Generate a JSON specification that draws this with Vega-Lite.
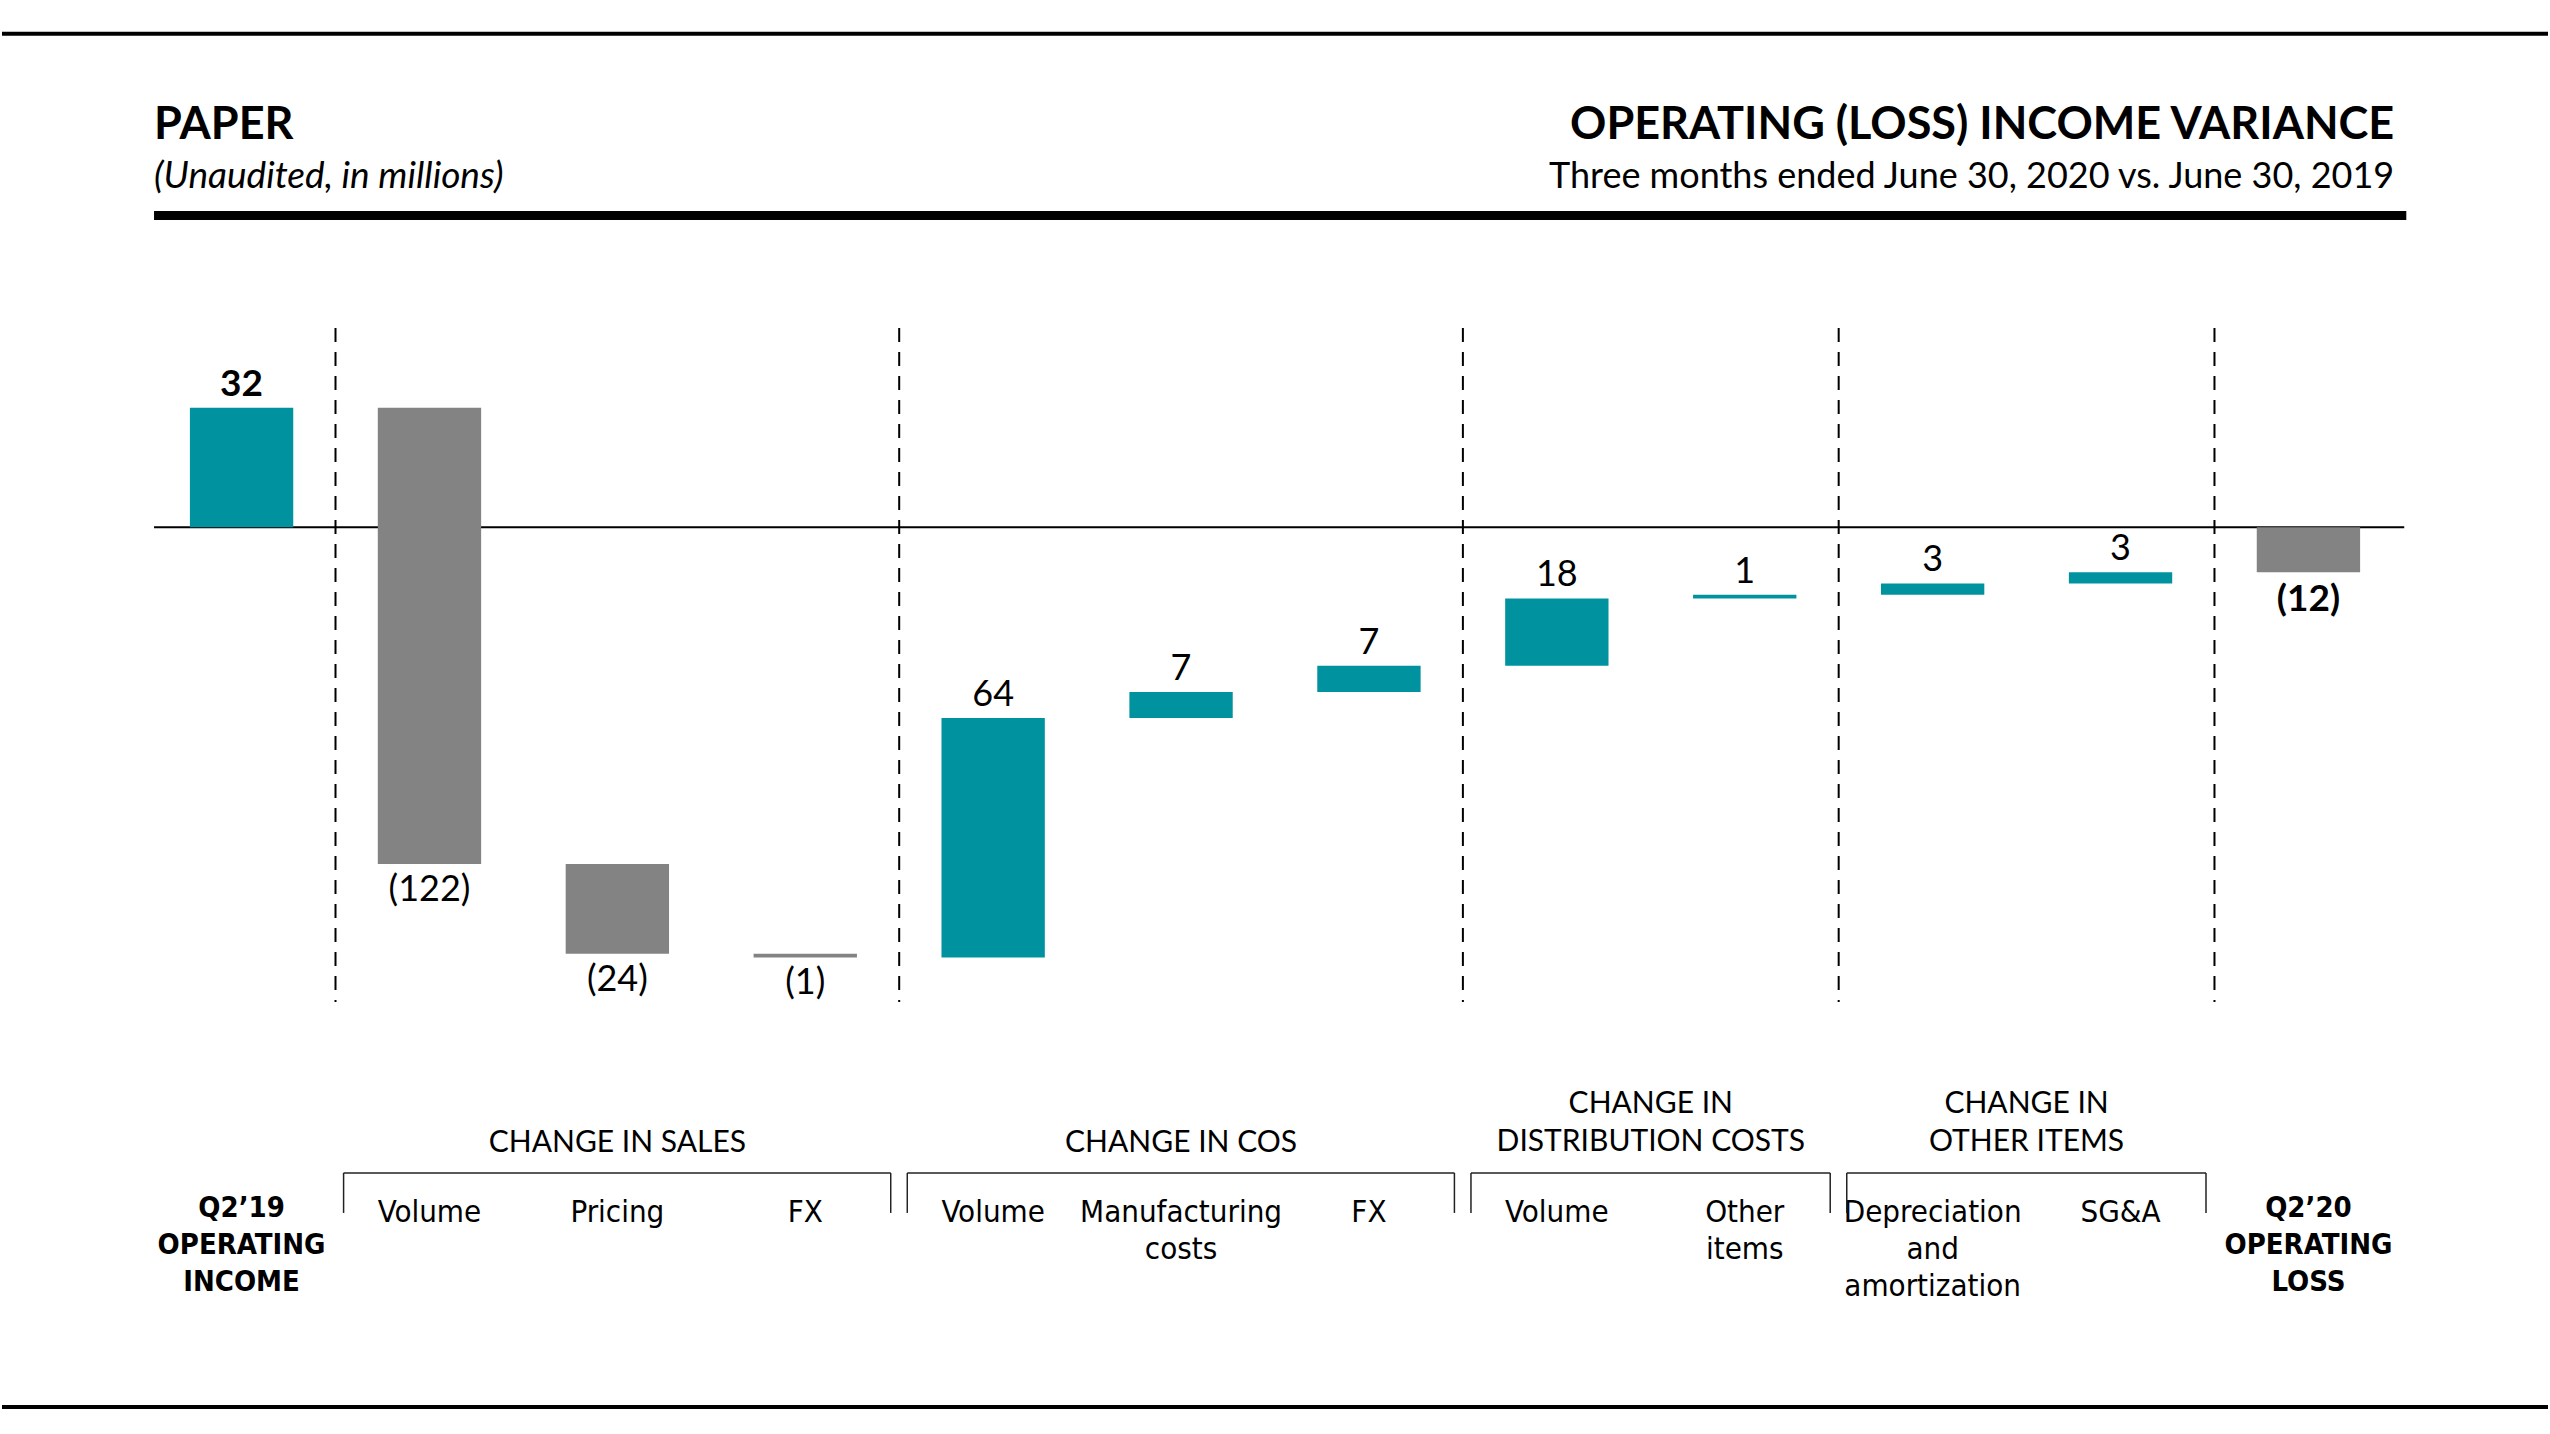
{
  "$schema": "https://vega.github.io/schema/vega-lite/v6.json",
  "width": 2550,
  "height": 1434,
  "autosize": {"type": "fit", "contains": "padding"},
  "padding": 0,
  "background": "white",
  "config": {"view": {"stroke": null}, "text": {"lineBreak": "\n", "color": "#000000"}},
  "datasets": {
    "bars": [
      {"id": "q219", "name": "Q2’19\nOPERATING\nINCOME", "kind": "total", "sign": "up", "start": 0, "end": 32, "label": "32"},
      {"id": "s_vol", "name": "Volume", "kind": "delta", "sign": "down", "start": 32, "end": -90, "label": "(122)"},
      {"id": "s_pri", "name": "Pricing", "kind": "delta", "sign": "down", "start": -90, "end": -114, "label": "(24)"},
      {"id": "s_fx", "name": "FX", "kind": "delta", "sign": "down", "start": -114, "end": -115, "label": "(1)"},
      {"id": "c_vol", "name": "Volume", "kind": "delta", "sign": "up", "start": -115, "end": -51, "label": "64"},
      {"id": "c_mfg", "name": "Manufacturing\ncosts", "kind": "delta", "sign": "up", "start": -51, "end": -44, "label": "7"},
      {"id": "c_fx", "name": "FX", "kind": "delta", "sign": "up", "start": -44, "end": -37, "label": "7"},
      {"id": "d_vol", "name": "Volume", "kind": "delta", "sign": "up", "start": -37, "end": -19, "label": "18"},
      {"id": "d_oth", "name": "Other\nitems", "kind": "delta", "sign": "up", "start": -19, "end": -18, "label": "1"},
      {"id": "o_da", "name": "Depreciation\nand\namortization", "kind": "delta", "sign": "up", "start": -18, "end": -15, "label": "3"},
      {"id": "o_sga", "name": "SG&A", "kind": "delta", "sign": "up", "start": -15, "end": -12, "label": "3"},
      {"id": "q220", "name": "Q2’20\nOPERATING\nLOSS", "kind": "total", "sign": "down", "start": 0, "end": -12, "label": "(12)"}
    ],
    "dividers": [{"after": "q219"}, {"after": "s_fx"}, {"after": "c_fx"}, {"after": "d_oth"}, {"after": "o_sga"}],
    "groups": [
      {"label": "CHANGE IN SALES", "first": "s_vol", "mid": "s_pri", "last": "s_fx", "size": 3},
      {"label": "CHANGE IN COS", "first": "c_vol", "mid": "c_mfg", "last": "c_fx", "size": 3},
      {"label": "CHANGE IN\nDISTRIBUTION COSTS", "first": "d_vol", "mid": "d_vol", "last": "d_oth", "size": 2},
      {"label": "CHANGE IN\nOTHER ITEMS", "first": "o_da", "mid": "o_da", "last": "o_sga", "size": 2}
    ]
  },
  "layer": [
    {
      "data": {"values": [{}]},
      "mark": {"type": "rule", "strokeWidth": 4, "color": "#000000"},
      "encoding": {"y": {"datum": 132, "type": "quantitative", "scale": {"domain": [-242.4, 141], "nice": false, "zero": false}, "axis": null}}
    },
    {
      "data": {"values": [{}]},
      "mark": {"type": "rule", "strokeWidth": 4, "color": "#000000"},
      "encoding": {"y": {"datum": -235.2, "type": "quantitative", "scale": {"domain": [-242.4, 141], "nice": false, "zero": false}, "axis": null}}
    },
    {
      "data": {"values": [{}]},
      "mark": {"type": "rule", "strokeWidth": 9, "color": "#000000"},
      "encoding": {
        "x": {"datum": "q219", "type": "nominal", "bandPosition": -0.347, "scale": {"domain": ["q219", "s_vol", "s_pri", "s_fx", "c_vol", "c_mfg", "c_fx", "d_vol", "d_oth", "o_da", "o_sga", "q220"], "paddingInner": 0.45, "paddingOuter": 1.023}, "axis": null},
        "x2": {"datum": "q220", "bandPosition": 1.447},
        "y": {"datum": 83.4, "type": "quantitative", "scale": {"domain": [-242.4, 141], "nice": false, "zero": false}, "axis": null}
      }
    },
    {
      "data": {"values": [{}]},
      "mark": {"type": "rule", "strokeWidth": 2, "color": "#000000"},
      "encoding": {
        "x": {"datum": "q219", "type": "nominal", "bandPosition": -0.347, "scale": {"domain": ["q219", "s_vol", "s_pri", "s_fx", "c_vol", "c_mfg", "c_fx", "d_vol", "d_oth", "o_da", "o_sga", "q220"], "paddingInner": 0.45, "paddingOuter": 1.023}, "axis": null},
        "x2": {"datum": "q220", "bandPosition": 1.427},
        "y": {"datum": 0, "type": "quantitative", "scale": {"domain": [-242.4, 141], "nice": false, "zero": false}, "axis": null}
      }
    },
    {
      "data": {"name": "dividers"},
      "mark": {"type": "rule", "strokeWidth": 2, "color": "#000000", "strokeDash": [14, 10]},
      "encoding": {
        "x": {"field": "after", "type": "nominal", "bandPosition": 1.409, "scale": {"domain": ["q219", "s_vol", "s_pri", "s_fx", "c_vol", "c_mfg", "c_fx", "d_vol", "d_oth", "o_da", "o_sga", "q220"], "paddingInner": 0.45, "paddingOuter": 1.023}, "axis": null},
        "y": {"datum": 53.3, "type": "quantitative", "scale": {"domain": [-242.4, 141], "nice": false, "zero": false}, "axis": null},
        "y2": {"datum": -126.9}
      }
    },
    {
      "data": {"name": "bars"},
      "mark": {"type": "bar"},
      "encoding": {
        "x": {"field": "id", "type": "nominal", "sort": null, "scale": {"domain": ["q219", "s_vol", "s_pri", "s_fx", "c_vol", "c_mfg", "c_fx", "d_vol", "d_oth", "o_da", "o_sga", "q220"], "paddingInner": 0.45, "paddingOuter": 1.023}, "axis": null},
        "y": {"field": "start", "type": "quantitative", "scale": {"domain": [-242.4, 141], "nice": false, "zero": false}, "axis": null},
        "y2": {"field": "end"},
        "color": {"field": "sign", "type": "nominal", "scale": {"domain": ["up", "down"], "range": ["#00939f", "#838383"]}, "legend": null}
      }
    },
    {
      "data": {"name": "bars"},
      "transform": [{"filter": "datum.sign === 'up' && datum.kind === 'delta'"}],
      "mark": {"type": "text", "baseline": "alphabetic", "align": "center", "dy": -12, "fontSize": 36, "font": "Lato, Liberation Sans, sans-serif"},
      "encoding": {
        "x": {"field": "id", "type": "nominal", "scale": {"domain": ["q219", "s_vol", "s_pri", "s_fx", "c_vol", "c_mfg", "c_fx", "d_vol", "d_oth", "o_da", "o_sga", "q220"], "paddingInner": 0.45, "paddingOuter": 1.023}, "axis": null},
        "y": {"field": "end", "type": "quantitative", "scale": {"domain": [-242.4, 141], "nice": false, "zero": false}, "axis": null},
        "text": {"field": "label"}
      }
    },
    {
      "data": {"name": "bars"},
      "transform": [{"filter": "datum.sign === 'up' && datum.kind === 'total'"}],
      "mark": {"type": "text", "baseline": "alphabetic", "align": "center", "dy": -12, "fontSize": 37, "fontWeight": "bold", "font": "Lato, Liberation Sans, sans-serif"},
      "encoding": {
        "x": {"field": "id", "type": "nominal", "scale": {"domain": ["q219", "s_vol", "s_pri", "s_fx", "c_vol", "c_mfg", "c_fx", "d_vol", "d_oth", "o_da", "o_sga", "q220"], "paddingInner": 0.45, "paddingOuter": 1.023}, "axis": null},
        "y": {"field": "end", "type": "quantitative", "scale": {"domain": [-242.4, 141], "nice": false, "zero": false}, "axis": null},
        "text": {"field": "label"}
      }
    },
    {
      "data": {"name": "bars"},
      "transform": [{"filter": "datum.sign === 'down' && datum.kind === 'delta'"}],
      "mark": {"type": "text", "baseline": "alphabetic", "align": "center", "dy": 37, "fontSize": 36, "font": "Lato, Liberation Sans, sans-serif"},
      "encoding": {
        "x": {"field": "id", "type": "nominal", "scale": {"domain": ["q219", "s_vol", "s_pri", "s_fx", "c_vol", "c_mfg", "c_fx", "d_vol", "d_oth", "o_da", "o_sga", "q220"], "paddingInner": 0.45, "paddingOuter": 1.023}, "axis": null},
        "y": {"field": "end", "type": "quantitative", "scale": {"domain": [-242.4, 141], "nice": false, "zero": false}, "axis": null},
        "text": {"field": "label"}
      }
    },
    {
      "data": {"name": "bars"},
      "transform": [{"filter": "datum.sign === 'down' && datum.kind === 'total'"}],
      "mark": {"type": "text", "baseline": "alphabetic", "align": "center", "dy": 39, "fontSize": 37, "fontWeight": "bold", "font": "Lato, Liberation Sans, sans-serif"},
      "encoding": {
        "x": {"field": "id", "type": "nominal", "scale": {"domain": ["q219", "s_vol", "s_pri", "s_fx", "c_vol", "c_mfg", "c_fx", "d_vol", "d_oth", "o_da", "o_sga", "q220"], "paddingInner": 0.45, "paddingOuter": 1.023}, "axis": null},
        "y": {"field": "end", "type": "quantitative", "scale": {"domain": [-242.4, 141], "nice": false, "zero": false}, "axis": null},
        "text": {"field": "label"}
      }
    },
    {
      "data": {"name": "bars"},
      "transform": [{"filter": "datum.kind === 'delta'"}],
      "mark": {"type": "text", "baseline": "alphabetic", "align": "center", "fontSize": 31, "lineHeight": 37, "font": "DejaVu Sans Condensed, Liberation Sans Narrow, Liberation Sans, sans-serif"},
      "encoding": {
        "x": {"field": "id", "type": "nominal", "scale": {"domain": ["q219", "s_vol", "s_pri", "s_fx", "c_vol", "c_mfg", "c_fx", "d_vol", "d_oth", "o_da", "o_sga", "q220"], "paddingInner": 0.45, "paddingOuter": 1.023}, "axis": null},
        "y": {"datum": -185.7, "type": "quantitative", "scale": {"domain": [-242.4, 141], "nice": false, "zero": false}, "axis": null},
        "text": {"field": "name"}
      }
    },
    {
      "data": {"name": "bars"},
      "transform": [{"filter": "datum.kind === 'total'"}],
      "mark": {"type": "text", "baseline": "alphabetic", "align": "center", "fontSize": 29, "fontWeight": "bold", "lineHeight": 37, "font": "DejaVu Sans Condensed, Liberation Sans Narrow, Liberation Sans, sans-serif"},
      "encoding": {
        "x": {"field": "id", "type": "nominal", "scale": {"domain": ["q219", "s_vol", "s_pri", "s_fx", "c_vol", "c_mfg", "c_fx", "d_vol", "d_oth", "o_da", "o_sga", "q220"], "paddingInner": 0.45, "paddingOuter": 1.023}, "axis": null},
        "y": {"datum": -184.4, "type": "quantitative", "scale": {"domain": [-242.4, 141], "nice": false, "zero": false}, "axis": null},
        "text": {"field": "name"}
      }
    },
    {
      "data": {"name": "groups"},
      "mark": {"type": "rule", "strokeWidth": 1.5, "color": "#222222"},
      "encoding": {
        "x": {"field": "first", "type": "nominal", "bandPosition": -0.331, "scale": {"domain": ["q219", "s_vol", "s_pri", "s_fx", "c_vol", "c_mfg", "c_fx", "d_vol", "d_oth", "o_da", "o_sga", "q220"], "paddingInner": 0.45, "paddingOuter": 1.023}, "axis": null},
        "x2": {"field": "last", "bandPosition": 1.327},
        "y": {"datum": -172.6, "type": "quantitative", "scale": {"domain": [-242.4, 141], "nice": false, "zero": false}, "axis": null}
      }
    },
    {
      "data": {"name": "groups"},
      "mark": {"type": "rule", "strokeWidth": 1.5, "color": "#222222"},
      "encoding": {
        "x": {"field": "first", "type": "nominal", "bandPosition": -0.331, "scale": {"domain": ["q219", "s_vol", "s_pri", "s_fx", "c_vol", "c_mfg", "c_fx", "d_vol", "d_oth", "o_da", "o_sga", "q220"], "paddingInner": 0.45, "paddingOuter": 1.023}, "axis": null},
        "y": {"datum": -172.6, "type": "quantitative", "scale": {"domain": [-242.4, 141], "nice": false, "zero": false}, "axis": null},
        "y2": {"datum": -183.3}
      }
    },
    {
      "data": {"name": "groups"},
      "mark": {"type": "rule", "strokeWidth": 1.5, "color": "#222222"},
      "encoding": {
        "x": {"field": "last", "type": "nominal", "bandPosition": 1.327, "scale": {"domain": ["q219", "s_vol", "s_pri", "s_fx", "c_vol", "c_mfg", "c_fx", "d_vol", "d_oth", "o_da", "o_sga", "q220"], "paddingInner": 0.45, "paddingOuter": 1.023}, "axis": null},
        "y": {"datum": -172.6, "type": "quantitative", "scale": {"domain": [-242.4, 141], "nice": false, "zero": false}, "axis": null},
        "y2": {"datum": -183.3}
      }
    },
    {
      "data": {"name": "groups"},
      "transform": [{"filter": "datum.size === 3"}],
      "mark": {"type": "text", "baseline": "alphabetic", "align": "center", "fontSize": 30, "lineHeight": 38, "font": "Lato, Liberation Sans, sans-serif"},
      "encoding": {
        "x": {"field": "mid", "type": "nominal", "bandPosition": 0.5, "scale": {"domain": ["q219", "s_vol", "s_pri", "s_fx", "c_vol", "c_mfg", "c_fx", "d_vol", "d_oth", "o_da", "o_sga", "q220"], "paddingInner": 0.45, "paddingOuter": 1.023}, "axis": null},
        "y": {"datum": -167.0, "type": "quantitative", "scale": {"domain": [-242.4, 141], "nice": false, "zero": false}, "axis": null},
        "text": {"field": "label"}
      }
    },
    {
      "data": {"name": "groups"},
      "transform": [{"filter": "datum.size === 2"}],
      "mark": {"type": "text", "baseline": "alphabetic", "align": "center", "fontSize": 30, "lineHeight": 38, "font": "Lato, Liberation Sans, sans-serif"},
      "encoding": {
        "x": {"field": "first", "type": "nominal", "bandPosition": 1.409, "scale": {"domain": ["q219", "s_vol", "s_pri", "s_fx", "c_vol", "c_mfg", "c_fx", "d_vol", "d_oth", "o_da", "o_sga", "q220"], "paddingInner": 0.45, "paddingOuter": 1.023}, "axis": null},
        "y": {"datum": -156.6, "type": "quantitative", "scale": {"domain": [-242.4, 141], "nice": false, "zero": false}, "axis": null},
        "text": {"field": "label"}
      }
    },
    {
      "data": {"values": [{"t": "PAPER"}]},
      "mark": {"type": "text", "baseline": "alphabetic", "align": "left", "fontSize": 45, "fontWeight": "bold", "font": "Lato, Liberation Sans, sans-serif"},
      "encoding": {
        "x": {"datum": "q219", "type": "nominal", "bandPosition": -0.347, "scale": {"domain": ["q219", "s_vol", "s_pri", "s_fx", "c_vol", "c_mfg", "c_fx", "d_vol", "d_oth", "o_da", "o_sga", "q220"], "paddingInner": 0.45, "paddingOuter": 1.023}, "axis": null},
        "y": {"datum": 103.85, "type": "quantitative", "scale": {"domain": [-242.4, 141], "nice": false, "zero": false}, "axis": null},
        "text": {"field": "t"}
      }
    },
    {
      "data": {"values": [{"t": "(Unaudited, in millions)"}]},
      "mark": {"type": "text", "baseline": "alphabetic", "align": "left", "fontSize": 37, "fontStyle": "italic", "font": "Lato, Liberation Sans, sans-serif"},
      "encoding": {
        "x": {"datum": "q219", "type": "nominal", "bandPosition": -0.347, "scale": {"domain": ["q219", "s_vol", "s_pri", "s_fx", "c_vol", "c_mfg", "c_fx", "d_vol", "d_oth", "o_da", "o_sga", "q220"], "paddingInner": 0.45, "paddingOuter": 1.023}, "axis": null},
        "y": {"datum": 90.75, "type": "quantitative", "scale": {"domain": [-242.4, 141], "nice": false, "zero": false}, "axis": null},
        "text": {"field": "t"}
      }
    },
    {
      "data": {"values": [{"t": "OPERATING (LOSS) INCOME VARIANCE"}]},
      "mark": {"type": "text", "baseline": "alphabetic", "align": "right", "fontSize": 45, "fontWeight": "bold", "font": "Lato, Liberation Sans, sans-serif"},
      "encoding": {
        "x": {"datum": "q220", "type": "nominal", "bandPosition": 1.33, "scale": {"domain": ["q219", "s_vol", "s_pri", "s_fx", "c_vol", "c_mfg", "c_fx", "d_vol", "d_oth", "o_da", "o_sga", "q220"], "paddingInner": 0.45, "paddingOuter": 1.023}, "axis": null},
        "y": {"datum": 103.85, "type": "quantitative", "scale": {"domain": [-242.4, 141], "nice": false, "zero": false}, "axis": null},
        "text": {"field": "t"}
      }
    },
    {
      "data": {"values": [{"t": "Three months ended June 30, 2020 vs. June 30, 2019"}]},
      "mark": {"type": "text", "baseline": "alphabetic", "align": "right", "fontSize": 36, "font": "Lato, Liberation Sans, sans-serif"},
      "encoding": {
        "x": {"datum": "q220", "type": "nominal", "bandPosition": 1.33, "scale": {"domain": ["q219", "s_vol", "s_pri", "s_fx", "c_vol", "c_mfg", "c_fx", "d_vol", "d_oth", "o_da", "o_sga", "q220"], "paddingInner": 0.45, "paddingOuter": 1.023}, "axis": null},
        "y": {"datum": 90.75, "type": "quantitative", "scale": {"domain": [-242.4, 141], "nice": false, "zero": false}, "axis": null},
        "text": {"field": "t"}
      }
    }
  ]
}
